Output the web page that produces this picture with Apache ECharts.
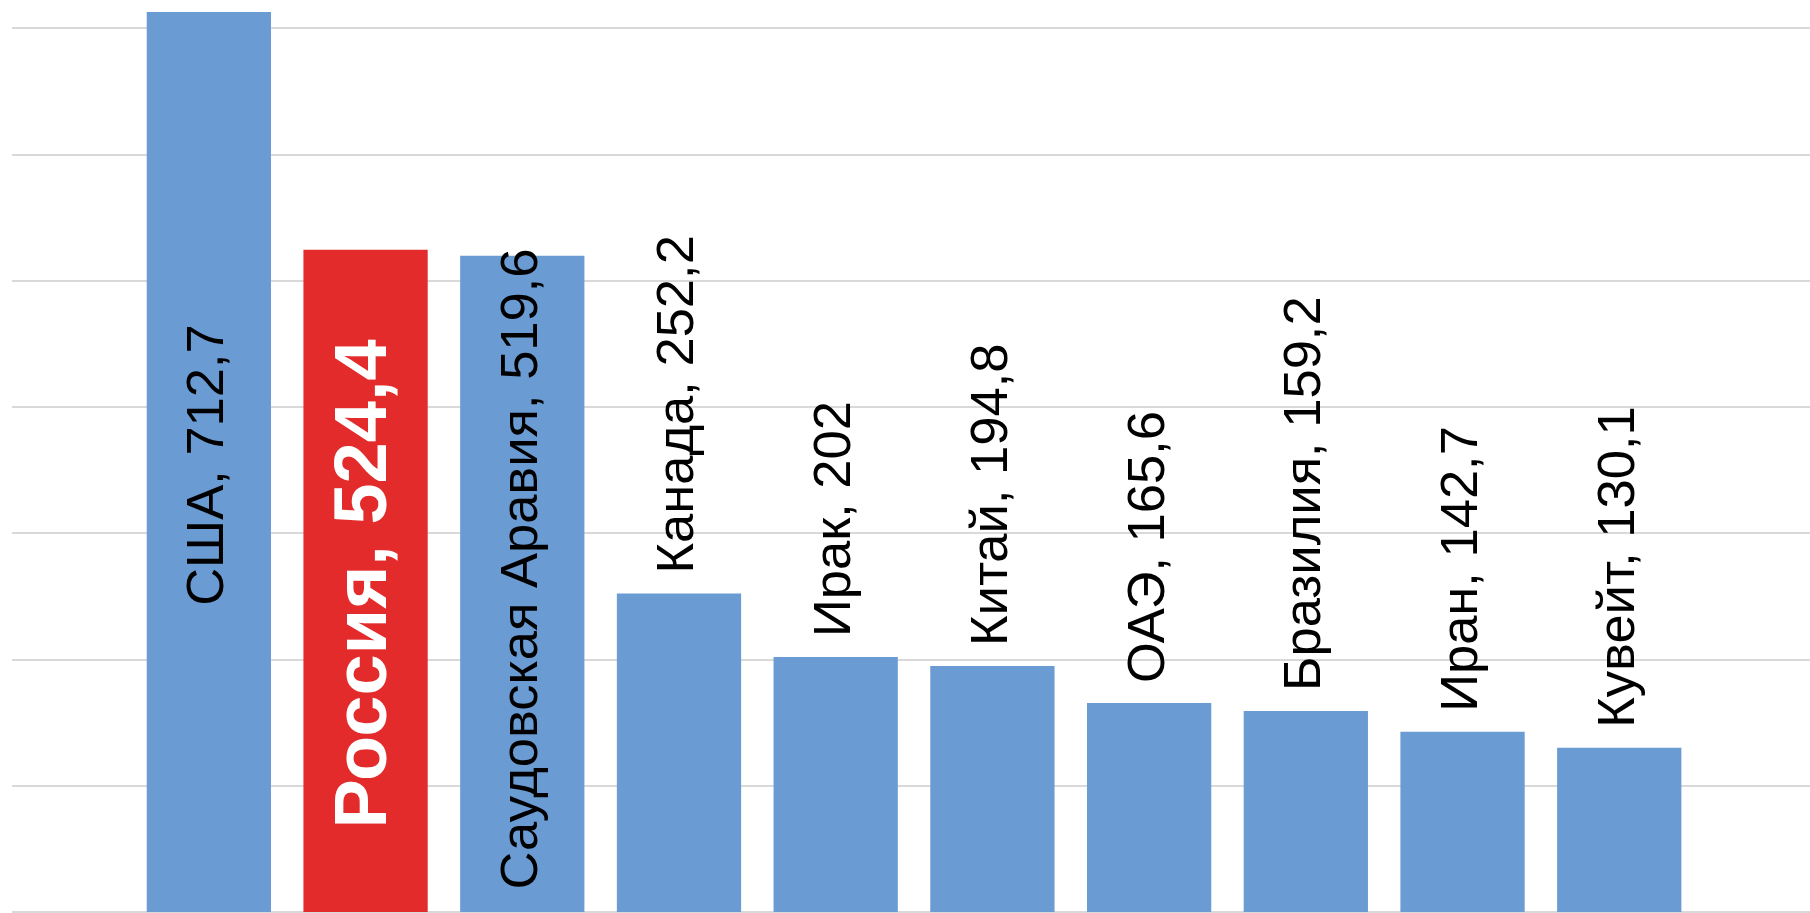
<!DOCTYPE html>
<html>
<head>
<meta charset="utf-8">
<script src="https://cdn.jsdelivr.net/npm/echarts@6/dist/echarts.min.js"></script>
<style>
html,body{margin:0;padding:0;background:#fff;}
#chart{width:1810px;height:913px;}
</style>
</head>
<body>
<div id="chart"></div>
<script>
const categories = ['США', 'Россия', 'Саудовская Аравия', 'Канада', 'Ирак', 'Китай', 'ОАЭ', 'Бразилия', 'Иран', 'Кувейт'];
const values = [712.7, 524.4, 519.6, 252.2, 202, 194.8, 165.6, 159.2, 142.7, 130.1];
const highlighted = 'Россия';
const insideLabelCount = 3;

const BLUE = '#6A9BD3';
const RED = '#E32B2B';
const FONT = '"Liberation Sans", Arial, sans-serif';

const fmt = v => String(v).replace('.', ',');

const data = values.map((v, i) => {
  const isHi = categories[i] === highlighted;
  const inside = i < insideLabelCount;
  return {
    value: v,
    itemStyle: { color: isHi ? RED : BLUE },
    label: inside ? {
      position: 'inside',
      rotate: 90,
      align: 'center',
      verticalAlign: 'middle',
      offset: i === 2 ? [15, 0] : [-3, 0],
      color: isHi ? '#fff' : '#000',
      fontWeight: isHi ? 'bold' : 'normal',
      fontSize: isHi ? 74 : 52.5
    } : {
      position: 'top',
      distance: 20,
      rotate: 90,
      align: 'left',
      verticalAlign: 'middle',
      color: '#000',
      fontSize: 52.5
    }
  };
});

const chart = echarts.init(document.getElementById('chart'), null, { renderer: 'canvas' });
const yMax = 722.2;
chart.setOption({
  animation: false,
  backgroundColor: '#fff',
  grid: [
    { left: 12, right: 0, top: 0, bottom: 1 },
    { left: 130.5, right: 112.4, top: 0, bottom: 1 }
  ],
  xAxis: [
    { type: 'category', gridIndex: 0, data: [''], show: false },
    { type: 'category', gridIndex: 1, data: categories, show: false }
  ],
  yAxis: [
    { type: 'value', gridIndex: 0, min: 0, max: yMax, interval: 100,
      axisLabel: { show: false }, axisLine: { show: false }, axisTick: { show: false },
      splitLine: { show: true, showMaxLine: false, lineStyle: { color: '#d9d9d9', width: 2 } } },
    { type: 'value', gridIndex: 1, min: 0, max: yMax, interval: 100, show: false,
      splitLine: { show: false } }
  ],
  series: [{
    type: 'bar',
    xAxisIndex: 1,
    yAxisIndex: 1,
    barCategoryGap: '20.7%',
    data: data,
    label: {
      show: true,
      fontFamily: FONT,
      formatter: p => p.name + ', ' + fmt(p.value)
    }
  }]
});
</script>
</body>
</html>
